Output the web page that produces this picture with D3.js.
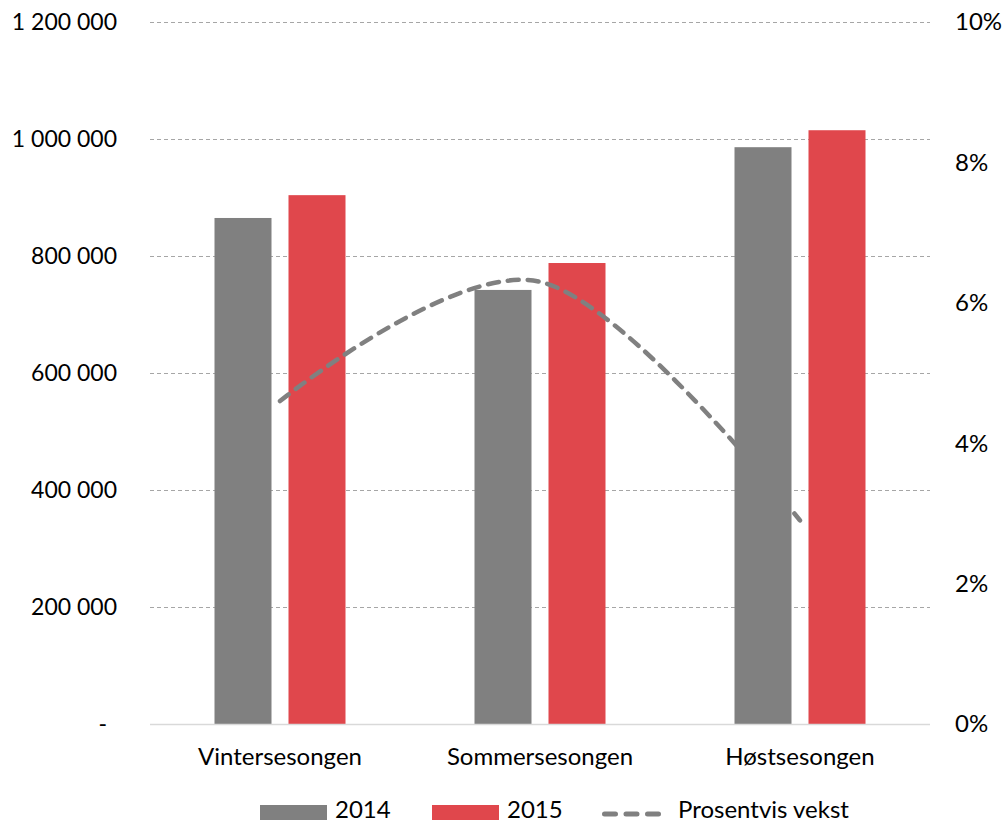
<!DOCTYPE html>
<html>
<head>
<meta charset="utf-8">
<script src="https://cdn.jsdelivr.net/npm/d3@7"></script>
<style>
  body { margin: 0; background: #fff; }
  svg text { font-family: Lato, "Open Sans", sans-serif; fill: #000; }
</style>
</head>
<body>
<script>
// data
const seasons = ["Vintersesongen", "Sommersesongen", "Høstsesongen"]
const years = ["2014", "2015"]
const values2014 = [865000, 742000, 986000]
const values2015 = [904000, 788000, 1015000]
const growth = [0.046, 0.063, 0.029]   // Prosentvis vekst
const leftTicks = [0, 200000, 400000, 600000, 800000, 1000000, 1200000]
const rightTicks = [0, 0.02, 0.04, 0.06, 0.08, 0.10]

const colors = {"2014": "#808080", "2015": "#e0474c"}

const width = 1003, height = 824
const margin = {top: 22, right: 73, bottom: 100, left: 150}

let svg = d3.select("body").append("svg")
  .attr("width", width)
  .attr("height", height)

let x = d3.scaleBand()
  .domain(seasons)
  .range([margin.left, width - margin.right])

let y = d3.scaleLinear()
  .domain([0, 1200000])
  .range([height - margin.bottom, margin.top])

let y2 = d3.scaleLinear()
  .domain([0, 0.10])
  .range([height - margin.bottom, margin.top])

const fmt = v => v == 0 ? "-" : d3.format(",")(v).replace(/,/g, " ")

// gridlines
svg.append("g")
  .selectAll("line")
  .data(leftTicks.filter(d => d > 0))
  .join("line")
    .attr("x1", margin.left)
    .attr("x2", width - margin.right)
    .attr("y1", d => y(d) + 0.5)
    .attr("y2", d => y(d) + 0.5)
    .attr("stroke", "#a6a6a6")
    .attr("stroke-dasharray", "4 3")

// left axis labels
svg.append("g")
  .selectAll("text")
  .data(leftTicks)
  .join("text")
    .attr("x", d => d == 0 ? 107 : 117)
    .attr("y", d => y(d))
    .attr("dy", "0.35em")
    .attr("text-anchor", "end")
    .attr("font-size", 23)
    .text(fmt)

// right axis labels
svg.append("g")
  .selectAll("text")
  .data(rightTicks)
  .join("text")
    .attr("x", 955)
    .attr("y", d => y2(d))
    .attr("dy", "0.35em")
    .attr("font-size", 24)
    .text(d3.format(".0%"))

// bars
const barW = 57, gap = 17
let groups = svg.append("g")
  .selectAll("g")
  .data(seasons.map((s, i) => ({s, vals: [values2014[i], values2015[i]]})))
  .join("g")
    .attr("transform", d => "translate(" + (x(d.s) + x.bandwidth()/2) + ",0)")

groups.selectAll("rect")
  .data(d => d.vals.map((v, j) => ({v, year: years[j], j})))
  .join("rect")
    .attr("x", d => d.j == 0 ? -gap/2 - barW : gap/2)
    .attr("width", barW)
    .attr("y", d => y(d.v))
    .attr("height", d => y(0) - y(d.v))
    .attr("fill", d => colors[d.year])

// baseline
svg.append("line")
  .attr("x1", margin.left)
  .attr("x2", width - margin.right)
  .attr("y1", y(0) + 0.5)
  .attr("y2", y(0) + 0.5)
  .attr("stroke", "#d9d9d9")
  .attr("stroke-width", 1.5)

// growth line, smoothed like the spreadsheet
let line = d3.line()
  .x((d, i) => x(seasons[i]) + x.bandwidth()/2)
  .y(d => y2(d))
  .curve(d3.curveCardinal.tension(0))

svg.append("path")
  .datum(growth)
  .attr("fill", "none")
  .attr("stroke", "#808080")
  .attr("stroke-width", 4.5)
  .attr("stroke-linecap", "round")
  .attr("stroke-dasharray", "11 9")
  .attr("d", line)

// category labels
svg.append("g")
  .selectAll("text")
  .data(seasons)
  .join("text")
    .attr("x", d => x(d) + x.bandwidth()/2)
    .attr("y", 757)
    .attr("dy", "0.35em")
    .attr("text-anchor", "middle")
    .attr("font-size", 24)
    .text(d => d)

// legend
let legend = svg.append("g").attr("transform", "translate(0,810)")
years.forEach((yr, i) => {
  const lx = 260 + i * 172
  legend.append("rect")
    .attr("x", lx).attr("y", -5)
    .attr("width", 67).attr("height", 15)
    .attr("fill", colors[yr])
  legend.append("text")
    .attr("x", lx + 75).attr("y", 0).attr("dy", "0.35em")
    .attr("font-size", 24)
    .text(yr)
})
legend.append("line")
  .attr("x1", 604.5).attr("x2", 662)
  .attr("y1", 4).attr("y2", 4)
  .attr("stroke", "#808080")
  .attr("stroke-width", 5)
  .attr("stroke-linecap", "round")
  .attr("stroke-dasharray", "11 10.5")
legend.append("text")
  .attr("x", 678).attr("y", 0).attr("dy", "0.35em")
  .attr("font-size", 24)
  .text("Prosentvis vekst")
</script>
</body>
</html>
